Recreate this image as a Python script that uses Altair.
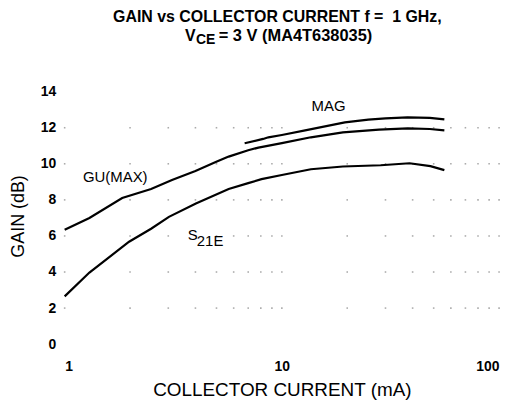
import altair as alt
import pandas as pd

FONT = "Liberation Sans"

# ---- data ----
gu_x = [1, 1.3, 1.84, 2.5, 3.12, 4, 4.96, 5.69, 7, 7.8, 10, 13.6, 19.1, 28, 38, 48, 56]
gu_y = [6.34, 7.0, 8.1, 8.6, 9.1, 9.6, 10.1, 10.4, 10.75, 10.9, 11.15, 11.47, 11.74, 11.9, 11.96, 11.93, 11.85]

s21_x = [1, 1.3, 1.98, 2.5, 3.02, 4.02, 5.69, 7.0, 8.06, 10, 13.6, 19.1, 28.5, 38.7, 48.3, 56]
s21_y = [2.65, 3.97, 5.68, 6.4, 7.06, 7.8, 8.6, 8.93, 9.15, 9.38, 9.7, 9.85, 9.92, 10.03, 9.87, 9.65]

mag_x = [6.74, 8.2, 8.67, 10, 12.8, 19.5, 25, 30, 37.9, 48, 56]
mag_y = [11.14, 11.38, 11.47, 11.6, 11.85, 12.3, 12.45, 12.52, 12.57, 12.55, 12.46]

x_ticks = [1, 10, 100]
y_ticks = [0, 2, 4, 6, 8, 10, 12, 14]
grid_x = [1, 2, 3, 4, 5, 6, 7, 8, 9, 10, 20, 30, 40, 50, 60, 70, 80, 90, 100]
grid_y = [2, 4, 6, 8, 10, 12]

label_text = ["GU(MAX)", "MAG"]
label_x = [1.71, 16.4]
label_y = [9.26, 13.2]

s_label_x = [3.69]
s_label_y = [6.06]
sub_label_x = [4.06]
sub_label_y = [5.73]

title_line1 = "GAIN vs COLLECTOR CURRENT f = \u00a01 GHz,"
title_v = "V"
title_sub = "CE"
title_rest = "= 3 V (MA4T638035)"

# ---- tables ----
rows = []
for name, xs, ys in [("GU(MAX)", gu_x, gu_y), ("S21E", s21_x, s21_y), ("MAG", mag_x, mag_y)]:
    for a, b in zip(xs, ys):
        rows.append({"series": name, "x": a, "y": b})
lines_df = pd.DataFrame(rows)

grid_df = pd.DataFrame([{"x": a, "y": b} for a in grid_x for b in grid_y])
labels_df = pd.DataFrame({"t": label_text, "x": label_x, "y": label_y})
s_df = pd.DataFrame({"t": ["S"], "x": s_label_x, "y": s_label_y})
sub_df = pd.DataFrame({"t": ["21E"], "x": sub_label_x, "y": sub_label_y})

x_enc = alt.X(
    "x:Q",
    scale=alt.Scale(type="log", domain=[1, 100], nice=False),
    axis=alt.Axis(
        values=x_ticks, format="d", grid=False, ticks=False, domain=False,
        labelFont=FONT, labelFontSize=14, labelFontWeight="bold", labelColor="black",
        labelPadding=15,
        title="COLLECTOR CURRENT (mA)", titleFont=FONT, titleFontSize=19,
        titleFontWeight="normal", titleColor="black",
        titleBaseline="middle", titleY=46,
    ),
)
y_enc = alt.Y(
    "y:Q",
    scale=alt.Scale(domain=[0, 14], nice=False),
    axis=alt.Axis(
        values=y_ticks, grid=False, ticks=False, domain=False,
        labelFont=FONT, labelFontSize=14, labelFontWeight="bold", labelColor="black",
        labelPadding=9,
        title="GAIN (dB)", titleFont=FONT, titleFontSize=18,
        titleFontWeight="normal", titleColor="black",
        titleAlign="center", titleBaseline="middle", titleX=-46, titleY=125,
    ),
)

grid = alt.Chart(grid_df).mark_square(size=2.5, color="#888888", opacity=0.7).encode(x=x_enc, y=y_enc)

lines = alt.Chart(lines_df).mark_line(color="black", strokeWidth=2.2).encode(
    x=x_enc, y=y_enc, detail="series:N"
)

labels = alt.Chart(labels_df).mark_text(
    font=FONT, fontSize=15, color="black", align="center", baseline="middle"
).encode(x=x_enc, y=y_enc, text="t:N")

s_lab = alt.Chart(s_df).mark_text(
    font=FONT, fontSize=15, color="black", align="left", baseline="middle"
).encode(x=x_enc, y=y_enc, text="t:N")

sub_lab = alt.Chart(sub_df).mark_text(
    font=FONT, fontSize=15, color="black", align="left", baseline="middle"
).encode(x=x_enc, y=y_enc, text="t:N")


def title_text(s, x, y, size, align):
    return alt.Chart(pd.DataFrame({"t": [s]})).mark_text(
        font=FONT, fontSize=size, fontWeight="bold", color="black",
        align=align, baseline="middle"
    ).encode(x=alt.value(x), y=alt.value(y), text="t:N")


t1 = title_text(title_line1, 214, -75, 16, "center")
t2 = title_text(title_v, 121, -56, 16, "left")
t3 = title_text(title_sub, 132, -52, 14, "left")
t4 = title_text(title_rest, 155, -56, 16.5, "left")

chart = alt.layer(grid, lines, labels, s_lab, sub_lab, t1, t2, t3, t4).properties(
    width=437,
    height=254,
    autosize=alt.AutoSizeParams(type="none"),
    padding={"left": 57, "top": 83, "right": 10, "bottom": 55},
    background="white",
).configure_view(stroke=None)

chart.save("out.html", embed_options={"renderer": "svg", "actions": False})
